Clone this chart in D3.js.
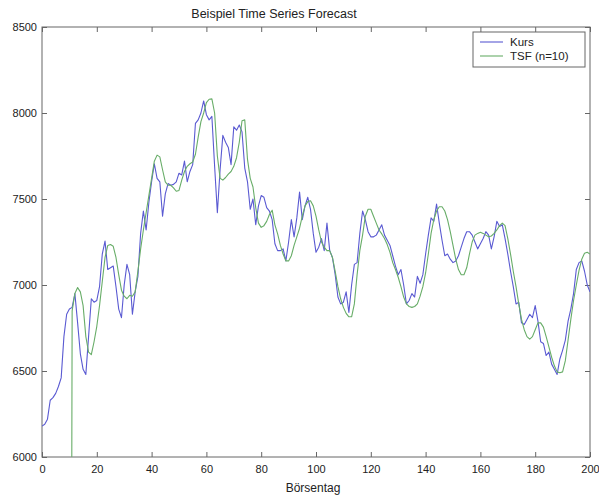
<!DOCTYPE html>
<html>
<head>
<meta charset="utf-8">
<script src="https://cdn.jsdelivr.net/npm/d3@7"></script>
<style>
  html, body { margin: 0; padding: 0; background: #fff; }
  svg { display: block; font-family: "Liberation Sans", Arial, sans-serif; }
</style>
</head>
<body>
<script>
const title = "Beispiel Time Series Forecast";
const xLabel = "Börsentag";
const seriesNames = ["Kurs", "TSF (n=10)"];
const xTicks = [0, 20, 40, 60, 80, 100, 120, 140, 160, 180, 200];
const yTicks = [6000, 6500, 7000, 7500, 8000, 8500];

const kurs = [
6180,6190,6220,6330,6345,6370,6410,6460,6700,6830,
6860,6870,6950,6780,6600,6510,6480,6700,6920,6900,
6910,6990,7180,7255,7090,7100,7110,6990,6860,6810,
7000,7120,7060,6830,6960,7050,7300,7430,7320,7480,
7600,7705,7620,7600,7400,7530,7590,7580,7585,7600,
7650,7640,7720,7600,7660,7700,7940,7960,8000,8070,
7990,7960,7980,7690,7420,7670,7870,7830,7800,7700,
7920,7900,7930,7890,7680,7600,7440,7500,7350,7460,
7520,7510,7450,7430,7380,7240,7200,7200,7210,7140,
7250,7380,7280,7390,7540,7380,7460,7510,7440,7300,
7190,7220,7270,7200,7360,7200,7160,7060,6930,6890,
6900,6960,6840,7000,7120,7130,7300,7430,7380,7310,
7280,7280,7290,7320,7350,7290,7260,7230,7170,7110,
7060,7090,7000,6890,6910,6950,6930,7050,7010,7060,
7180,7290,7390,7370,7470,7360,7260,7170,7180,7150,
7130,7140,7170,7220,7270,7310,7310,7290,7250,7210,
7240,7270,7310,7290,7210,7280,7370,7340,7350,7270,
7180,7080,6990,6890,6900,6780,6770,6800,6830,6810,
6880,6790,6670,6660,6590,6610,6540,6510,6480,6570,
6620,6680,6790,6860,6950,7090,7130,7140,7080,7000,
6960];

const tsf = [
0,0,0,0,0,0,0,0,0,0,
0,6850,6950,6985,6960,6880,6700,6610,6595,6670,
6760,6880,7020,7160,7230,7235,7225,7160,7060,6970,
6935,6920,6940,6935,6960,7080,7210,7320,7420,7520,
7620,7720,7755,7745,7670,7600,7580,7580,7565,7545,
7550,7610,7660,7690,7705,7715,7760,7860,7950,8000,
8060,8080,8082,8000,7750,7620,7610,7625,7645,7660,
7690,7740,7830,7955,7960,7730,7620,7570,7450,7360,
7335,7345,7370,7410,7435,7350,7297,7230,7180,7140,
7140,7170,7230,7280,7330,7400,7460,7485,7490,7460,
7400,7320,7250,7220,7200,7200,7160,7080,6990,6920,
6870,6835,6815,6815,6890,7060,7200,7290,7400,7440,
7440,7400,7360,7320,7297,7270,7235,7190,7130,7090,
7045,6990,6930,6890,6875,6870,6875,6890,6935,6990,
7070,7180,7300,7380,7430,7455,7455,7430,7380,7310,
7230,7150,7090,7060,7060,7100,7180,7250,7290,7300,
7307,7300,7290,7280,7285,7300,7320,7345,7360,7345,
7270,7180,7080,6990,6890,6800,6740,6700,6685,6700,
6740,6780,6780,6755,6700,6640,6580,6530,6495,6490,
6495,6560,6680,6800,6910,7000,7085,7150,7185,7190,
7180];

const W = 599, H = 499;
const m = { left: 42, right: 9, top: 27, bottom: 42 };
const colors = ["#5a5ad2", "#68ad68"];

const svg = d3.select("body").append("svg").attr("width", W).attr("height", H);
const x = d3.scaleLinear().domain([0, 200]).range([m.left, W - m.right]);
const y = d3.scaleLinear().domain([6000, 8500]).range([H - m.bottom, m.top]);

svg.append("defs").append("clipPath").attr("id", "clip")
  .append("rect").attr("x", x(0)).attr("y", y(8500))
  .attr("width", x(200) - x(0)).attr("height", y(6000) - y(8500));

const axisColor = "#666";
const fontSize = 11;

function styleAxis(g) {
  g.select(".domain").remove();
  g.selectAll(".tick line").attr("stroke", axisColor);
  g.selectAll(".tick text").attr("fill", "#222").attr("font-size", fontSize)
    .attr("font-family", "'Liberation Sans', Arial, sans-serif");
}

svg.append("g").attr("transform", `translate(0,${y(6000)})`)
  .call(d3.axisBottom(x).tickValues(xTicks).tickSizeInner(-5).tickSizeOuter(0).tickPadding(8))
  .call(styleAxis);
svg.append("g").attr("transform", `translate(0,${y(8500)})`)
  .call(d3.axisTop(x).tickValues(xTicks).tickSizeInner(-5).tickSizeOuter(0).tickFormat(""))
  .call(styleAxis);
svg.append("g").attr("transform", `translate(${x(0)},0)`)
  .call(d3.axisLeft(y).tickValues(yTicks).tickSizeInner(-5).tickSizeOuter(0).tickPadding(5).tickFormat(d3.format("d")))
  .call(styleAxis);
svg.append("g").attr("transform", `translate(${x(200)},0)`)
  .call(d3.axisRight(y).tickValues(yTicks).tickSizeInner(-5).tickSizeOuter(0).tickFormat(""))
  .call(styleAxis);

svg.append("rect").attr("x", x(0)).attr("y", y(8500))
  .attr("width", x(200) - x(0)).attr("height", y(6000) - y(8500))
  .attr("fill", "none").attr("stroke", axisColor).attr("stroke-width", 1);

const line = d3.line().x((d, i) => x(i)).y(d => y(d));
const plot = svg.append("g").attr("clip-path", "url(#clip)");
[kurs, tsf].forEach((s, k) => {
  plot.append("path").datum(s).attr("d", line)
    .attr("fill", "none").attr("stroke", colors[k]).attr("stroke-width", 1.1)
    .attr("stroke-linejoin", "round");
});

svg.append("text").attr("x", 274).attr("y", 18).attr("text-anchor", "middle")
  .attr("font-size", 12.5).attr("fill", "#222").text(title);
svg.append("text").attr("x", 313).attr("y", 492).attr("text-anchor", "middle")
  .attr("font-size", 12).attr("fill", "#222").text(xLabel);

const lg = svg.append("g");
lg.append("rect").attr("x", 473).attr("y", 32).attr("width", 112).attr("height", 35)
  .attr("fill", "#fff").attr("stroke", axisColor);
seriesNames.forEach((n, k) => {
  const yy = 42 + k * 14;
  lg.append("line").attr("x1", 480).attr("x2", 503).attr("y1", yy).attr("y2", yy)
    .attr("stroke", colors[k]).attr("stroke-width", 1.1);
  lg.append("text").attr("x", 510).attr("y", yy + 4).attr("font-size", 11.5)
    .attr("fill", "#222").text(n);
});
</script>
</body>
</html>
